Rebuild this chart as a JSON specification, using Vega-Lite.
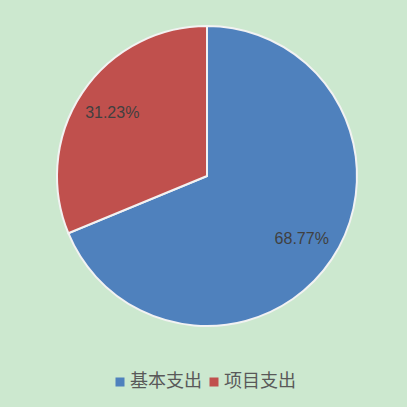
{
  "$schema": "https://vega.github.io/schema/vega-lite/v6.json",
  "width": 400,
  "height": 352,
  "padding": {"left": 7, "top": 0, "right": 0, "bottom": 30},
  "background": "#cce8cf",
  "config": {"view": {"stroke": null}, "font": "Noto Sans CJK SC"},
  "data": {
    "values": [
      {"category": "基本支出", "share": 68.77, "label": "68.77%", "rank": 1},
      {"category": "项目支出", "share": 31.23, "label": "31.23%", "rank": 2}
    ]
  },
  "encoding": {
    "theta": {"field": "share", "type": "quantitative", "stack": true},
    "order": {"field": "rank", "type": "quantitative"}
  },
  "layer": [
    {
      "mark": {"type": "arc", "radius": 150, "stroke": "#f2f2f2", "strokeWidth": 2},
      "encoding": {
        "color": {
          "field": "category",
          "type": "nominal",
          "sort": ["基本支出", "项目支出"],
          "scale": {"domain": ["基本支出", "项目支出"], "range": ["#4f81bd", "#c0504d"]},
          "legend": {
            "title": null,
            "orient": "none",
            "legendX": 104,
            "legendY": 373,
            "direction": "horizontal",
            "symbolType": "square",
            "symbolSize": 81,
            "symbolStrokeWidth": 0,
            "labelFontSize": 18,
            "labelColor": "#595959",
            "labelFont": "Noto Sans CJK SC",
            "labelOffset": 1,
            "columnPadding": 3
          }
        }
      }
    },
    {
      "mark": {"type": "text", "radius": 114, "fontSize": 16, "color": "#404040", "font": "Liberation Sans"},
      "encoding": {"text": {"field": "label"}}
    }
  ]
}
